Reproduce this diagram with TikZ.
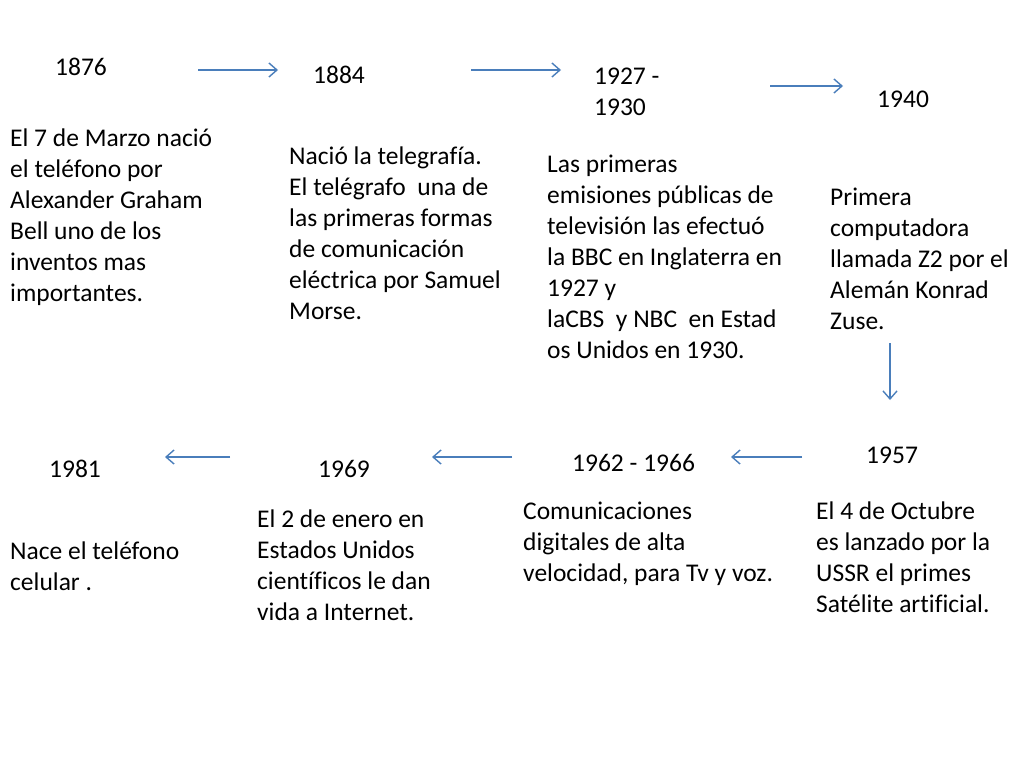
\documentclass[tikz,border=0pt]{standalone}
\usepackage{fontspec}
\setmainfont[Ligatures=NoCommon]{Carlito}
\usepackage{xcolor}
\definecolor{linkblue}{RGB}{74,126,187}
\usetikzlibrary{positioning,arrows.meta}

\begin{document}
\begin{tikzpicture}
		[x=1pt,y=-1pt,
		year/.style={anchor=west,inner sep=0pt,font=\fontsize{25.5}{31}\selectfont},
		info/.style={anchor=north west,inner sep=0pt,align=left,font=\fontsize{25.5}{31}\selectfont},
		flecha/.style={draw=linkblue,line width=1.4pt,-{Straight Barb[length=8pt,width=14pt]}}]
		\useasboundingbox[fill=white] (0,0) rectangle (1024,768);
		% first row
		\node[year] (y1876) at (55,67) {1876};
		\node[year] (y1884) at (313,75) {1884};
		\node[info] (y1927) at (594,68) {1927 -\\1930};
		\node[year] (y1940) at (877,99) {1940};
		\node[info] (t1876) at (10,129) {El 7 de Marzo nació\\el teléfono por\\Alexander Graham\\Bell uno de los\\inventos mas\\importantes.};
		\node[info] (t1884) at (289,147) {Nació la telegrafía.\\El telégrafo~ una de\\las primeras formas\\de comunicación\\eléctrica por Samuel\\Morse.};
		\node[info] (t1927) at (547,155) {Las primeras\\emisiones públicas de\\televisión las efectuó\\la BBC en Inglaterra en\\1927 y\\laCBS~ y NBC~ en Estad\\os Unidos en 1930.};
		\node[info] (t1940) at (830,188) {Primera\\computadora\\llamada Z2 por el\\Alemán Konrad\\Zuse.};
		% second row
		\node[year] (y1957) at (866,455) {1957};
		\node[year] (y1962) at (572,463) {1962 - 1966};
		\node[year] (y1969) at (318,469) {1969};
		\node[year] (y1981) at (49,469) {1981};
		\node[info] (t1957) at (816,502) {El 4 de Octubre\\es lanzado por la\\USSR el primes\\Satélite artificial.};
		\node[info] (t1962) at (523,502) {Comunicaciones\\digitales de alta\\velocidad, para Tv y voz.};
		\node[info] (t1969) at (257,510) {El 2 de enero en\\Estados Unidos\\científicos le dan\\vida a Internet.};
		\node[info] (t1981) at (10,542) {Nace el teléfono\\celular .};
		% arrows
		\coordinate (a1) at (198,70);  \coordinate (b1) at (278,70);
		\coordinate (a2) at (471,70);  \coordinate (b2) at (561,70);
		\coordinate (a3) at (770,86);  \coordinate (b3) at (843,86);
		\coordinate (a4) at (890,343); \coordinate (b4) at (890,400);
		\coordinate (a5) at (802,457); \coordinate (b5) at (731,457);
		\coordinate (a6) at (512,457); \coordinate (b6) at (432,457);
		\coordinate (a7) at (230,457); \coordinate (b7) at (165,457);
		\foreach \i in {1,...,7}
			\draw[flecha] (a\i) -- (b\i);
	\end{tikzpicture}
\end{document}
